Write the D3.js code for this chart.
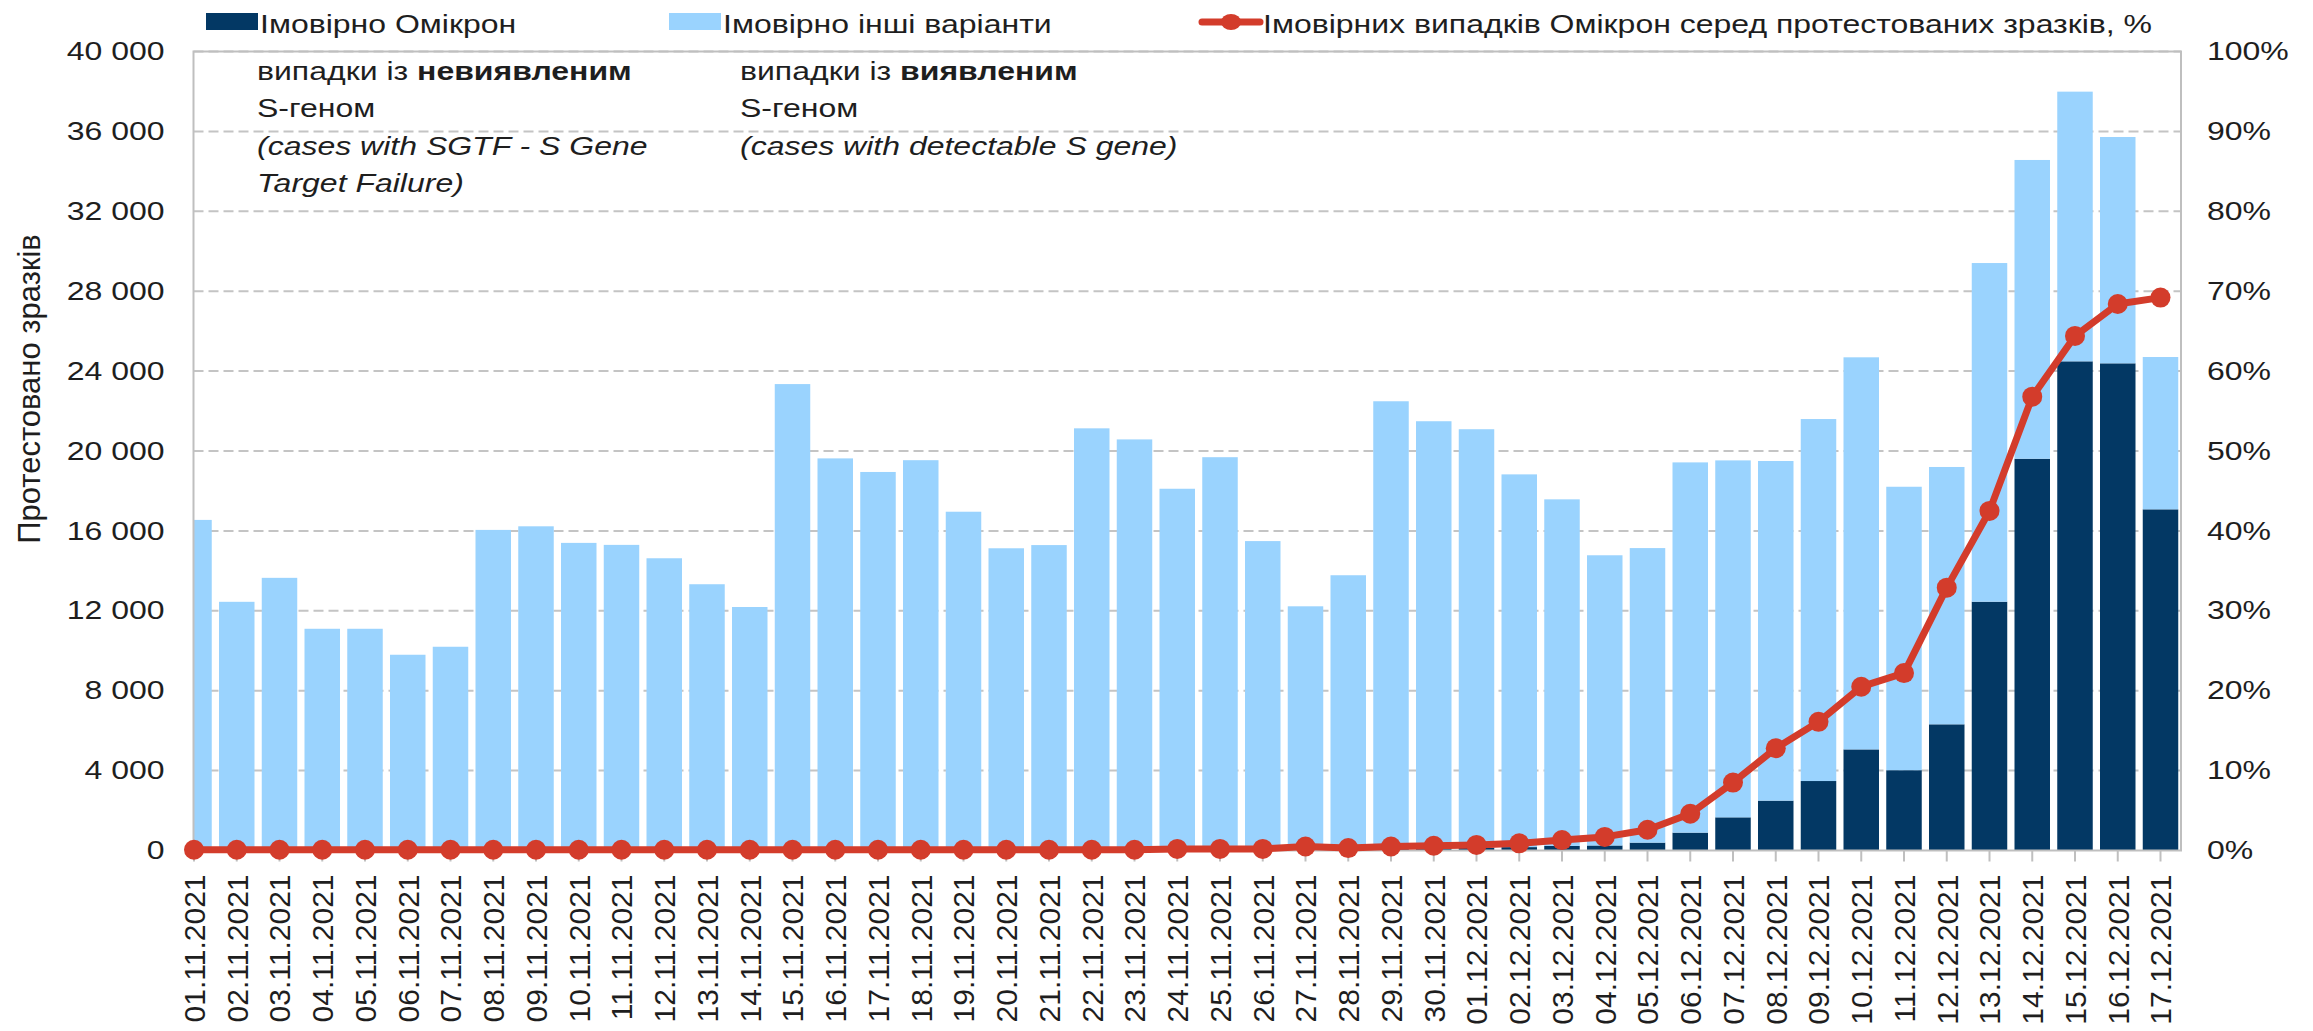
<!DOCTYPE html>
<html>
<head>
<meta charset="utf-8">
<script src="https://cdn.jsdelivr.net/npm/d3@7"></script>
<style>
  body { margin: 0; background: #fff; }
  svg { display: block; font-family: "Liberation Sans", Arial, sans-serif; }
</style>
</head>
<body>
<div id="chart"></div>
<script>
// ---- data ----
var dates = [
    "01.11.2021", "02.11.2021", "03.11.2021", "04.11.2021", "05.11.2021", "06.11.2021", "07.11.2021",
    "08.11.2021", "09.11.2021", "10.11.2021", "11.11.2021", "12.11.2021", "13.11.2021", "14.11.2021",
    "15.11.2021", "16.11.2021", "17.11.2021", "18.11.2021", "19.11.2021", "20.11.2021", "21.11.2021",
    "22.11.2021", "23.11.2021", "24.11.2021", "25.11.2021", "26.11.2021", "27.11.2021", "28.11.2021",
    "29.11.2021", "30.11.2021", "01.12.2021", "02.12.2021", "03.12.2021", "04.12.2021", "05.12.2021",
    "06.12.2021", "07.12.2021", "08.12.2021", "09.12.2021", "10.12.2021", "11.12.2021", "12.12.2021",
    "13.12.2021", "14.12.2021", "15.12.2021", "16.12.2021", "17.12.2021"
];

// Імовірно Омікрон (SGTF)
var omicron = [
    17, 12, 14, 11, 11, 10, 10, 16, 16, 15, 15, 15, 13, 12, 23, 20, 19, 20, 17, 15, 15, 21, 21,
    36, 39, 31, 61, 41, 112, 129, 148, 170, 229, 251, 394, 894, 1660, 2496, 3478, 5061, 4020,
    6317, 12455, 19613, 24489, 24389, 17080
];

// Імовірно інші варіанти
var other = [
    16533, 12438, 13636, 11089, 11089, 9790, 10190, 16034, 16214, 15385, 15285, 14615, 13317, 12178,
    23327, 19610, 18931, 19520, 16943, 15115, 15275, 21114, 20559, 18074, 19651, 15459, 12164, 13739,
    22378, 21361, 20942, 18660, 17351, 14529, 14746, 18536, 17870, 17004, 18122, 19629, 14190, 12883,
    16955, 14957, 13501, 11331, 7625
];

// share of probable Omicron among tested samples, %
var share = [
    0.1, 0.1, 0.1, 0.1, 0.1, 0.1, 0.1, 0.1, 0.1, 0.1, 0.1, 0.1, 0.1, 0.1, 0.1, 0.1, 0.1, 0.1, 0.1,
    0.1, 0.1, 0.1, 0.1, 0.2, 0.2, 0.2, 0.5, 0.3, 0.5, 0.6, 0.7, 0.9, 1.3, 1.7, 2.6, 4.6, 8.5, 12.8,
    16.1, 20.5, 22.2, 32.9, 42.5, 56.8, 64.4, 68.4, 69.2
];

var leftTicks = [0, 4000, 8000, 12000, 16000, 20000, 24000, 28000, 32000, 36000, 40000];
var rightTicks = [0, 10, 20, 30, 40, 50, 60, 70, 80, 90, 100];

var seriesNames = ["Імовірно Омікрон", "Імовірно інші варіанти",
    "Імовірних випадків Омікрон серед протестованих зразків, %"];
var yTitle = "Протестовано зразків";

// ---- layout ----
var width = 2313;
var height = 1031;
var margin = { top: 51.5, right: 132, bottom: 180.5, left: 193.5 };
var plotRight = width - margin.right;
var plotBottom = height - margin.bottom;

var navy = "#033864";
var sky = "#9ad3fe";
var red = "#d33c2b";
var grey = "#bfbfbf";
var ink = "#1e1e1e";
var barWidth = 35.5;

var fmt = d3.formatLocale({ decimal: ",", thousands: " ", grouping: [3], currency: ["", ""] }).format(",");

var x = d3.scalePoint()
    .domain(dates)
    .range([margin.left + 0.5, plotRight - 20.5]);

var y = d3.scaleLinear().domain([0, 40000]).range([plotBottom, margin.top]);
var yR = d3.scaleLinear().domain([0, 100]).range([plotBottom, margin.top]);

var rows = dates.map(function(d, i) {
    return { date: d, omicron: omicron[i], other: other[i], share: share[i] };
});

var stack = d3.stack().keys(["omicron", "other"]);
var colour = d3.scaleOrdinal().domain(["omicron", "other"]).range([navy, sky]);

var svg = d3.select("#chart")
    .append("svg")
    .attr("width", width)
    .attr("height", height);

// horizontal text in the source is squashed vertically
function hText(sel, px, py) {
    return sel.append("text")
        .attr("transform", "translate(" + px + "," + py + ") scale(1,0.8)")
        .style("font-size", "32px")
        .style("fill", ink);
}

svg.append("clipPath")
    .attr("id", "plotClip")
    .append("rect")
    .attr("x", margin.left)
    .attr("y", margin.top)
    .attr("width", plotRight - margin.left)
    .attr("height", plotBottom - margin.top);

// gridlines
svg.append("g")
    .selectAll("line")
    .data(leftTicks.filter(function(t) { return t > 0; }))
    .enter()
    .append("line")
    .attr("x1", margin.left)
    .attr("x2", plotRight)
    .attr("y1", function(d) { return y(d); })
    .attr("y2", function(d) { return y(d); })
    .style("stroke", "#c4c4c4")
    .style("stroke-width", 2)
    .style("stroke-dasharray", "10,5");

// stacked bars
svg.append("g")
    .attr("clip-path", "url(#plotClip)")
    .selectAll("g")
    .data(stack(rows))
    .enter()
    .append("g")
    .style("fill", function(s) { return colour(s.key); })
    .selectAll("rect")
    .data(function(s) { return s; })
    .enter()
    .append("rect")
    .attr("x", function(d) { return x(d.data.date) - barWidth / 2; })
    .attr("y", function(d) { return y(d[1]); })
    .attr("width", barWidth)
    .attr("height", function(d) { return y(d[0]) - y(d[1]); });

// plot frame
svg.append("rect")
    .attr("x", margin.left)
    .attr("y", margin.top)
    .attr("width", plotRight - margin.left)
    .attr("height", plotBottom - margin.top)
    .style("fill", "none")
    .style("stroke", grey)
    .style("stroke-width", 2);

// x tick marks
svg.append("g")
    .selectAll("line")
    .data(dates)
    .enter()
    .append("line")
    .attr("x1", function(d) { return x(d); })
    .attr("x2", function(d) { return x(d); })
    .attr("y1", plotBottom)
    .attr("y2", plotBottom + 11)
    .style("stroke", grey)
    .style("stroke-width", 2);

// left axis
var leftAxis = svg.append("g")
    .attr("transform", "translate(" + margin.left + ",0)")
    .call(d3.axisLeft(y).tickValues(leftTicks).tickFormat(fmt).tickSize(0).tickPadding(29));
leftAxis.select(".domain").remove();
leftAxis.selectAll("text")
    .attr("transform", "scale(1,0.8)")
    .style("font-size", "32px")
    .style("font-family", "Liberation Sans, Arial, sans-serif")
    .style("fill", ink);

// right axis
var rightAxis = svg.append("g")
    .attr("transform", "translate(" + plotRight + ",0)")
    .call(d3.axisRight(yR).tickValues(rightTicks).tickFormat(function(d) { return d + "%"; })
        .tickSize(0).tickPadding(26));
rightAxis.select(".domain").remove();
rightAxis.selectAll("text")
    .attr("transform", "scale(1,0.8)")
    .style("font-size", "32px")
    .style("font-family", "Liberation Sans, Arial, sans-serif")
    .style("fill", ink);

// x labels
svg.append("g")
    .selectAll("text")
    .data(dates)
    .enter()
    .append("text")
    .attr("transform", function(d) { return "translate(" + x(d) + "," + (plotBottom + 24) + ") rotate(-90)"; })
    .attr("dy", "0.36em")
    .style("text-anchor", "end")
    .style("font-size", "30px")
    .style("fill", ink)
    .text(function(d) { return d; });

// y title
svg.append("text")
    .attr("transform", "translate(29,389) rotate(-90)")
    .attr("dy", "0.36em")
    .style("text-anchor", "middle")
    .style("font-size", "31px")
    .style("fill", ink)
    .text(yTitle);

// share line
var line = d3.line()
    .x(function(d) { return x(d.date); })
    .y(function(d) { return yR(d.share); });

svg.append("path")
    .datum(rows)
    .attr("d", line)
    .style("fill", "none")
    .style("stroke", red)
    .style("stroke-width", 7)
    .style("stroke-linejoin", "round");

svg.append("g")
    .selectAll("circle")
    .data(rows)
    .enter()
    .append("circle")
    .attr("cx", function(d) { return x(d.date); })
    .attr("cy", function(d) { return yR(d.share); })
    .attr("r", 10)
    .style("fill", red);

// legend
var legend = svg.append("g");
legend.append("rect").attr("x", 206).attr("y", 13).attr("width", 52).attr("height", 17).style("fill", navy);
hText(legend, 260, 33).text(seriesNames[0]);
legend.append("rect").attr("x", 669).attr("y", 13).attr("width", 52).attr("height", 17).style("fill", sky);
hText(legend, 723, 33).text(seriesNames[1]);
legend.append("line")
    .attr("x1", 1202).attr("x2", 1260).attr("y1", 22).attr("y2", 22)
    .style("stroke", red).style("stroke-width", 7).style("stroke-linecap", "round");
legend.append("ellipse").attr("cx", 1231).attr("cy", 22).attr("rx", 10).attr("ry", 8).style("fill", red);
hText(legend, 1263, 33).text(seriesNames[2]);

// annotations
var notes = svg.append("g");
var t1 = hText(notes, 257, 80);
t1.append("tspan").text("випадки із ");
t1.append("tspan").style("font-weight", "bold").text("невиявленим");
hText(notes, 257, 117).text("S-геном");
hText(notes, 257, 155).style("font-style", "italic").text("(cases with SGTF - S Gene");
hText(notes, 257, 192).style("font-style", "italic").text("Target Failure)");

var t2 = hText(notes, 740, 80);
t2.append("tspan").text("випадки із ");
t2.append("tspan").style("font-weight", "bold").text("виявленим");
hText(notes, 740, 117).text("S-геном");
hText(notes, 740, 155).style("font-style", "italic").text("(cases with detectable S gene)");
</script>
</body>
</html>
